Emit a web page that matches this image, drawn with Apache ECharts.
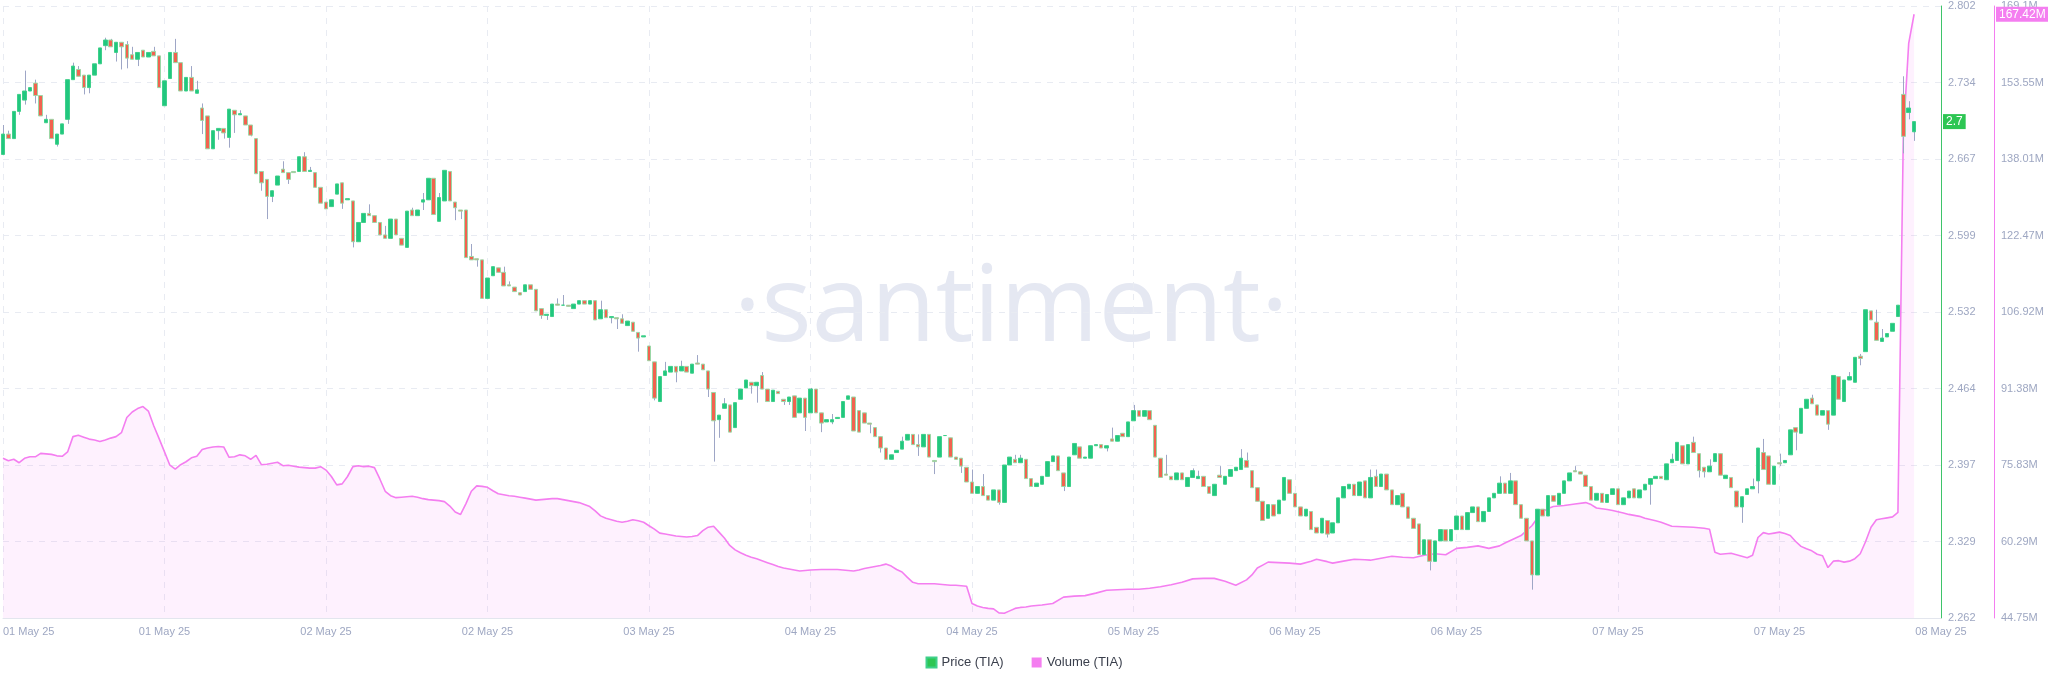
<!DOCTYPE html>
<html><head><meta charset="utf-8">
<script src="https://cdn.jsdelivr.net/npm/echarts/dist/echarts.min.js"></script>
<style>html,body{margin:0;padding:0;background:#fff}#c{width:2048px;height:693px}</style>
</head><body><div id="c"></div>
<script>
// ---- tick labels ----
const xTickLabels = ['01 May 25','01 May 25','02 May 25','02 May 25','03 May 25','04 May 25','04 May 25','05 May 25','06 May 25','06 May 25','07 May 25','07 May 25','08 May 25'];
const priceTicks = ['2.262','2.329','2.397','2.464','2.532','2.599','2.667','2.734','2.802'];
const volumeTicks = ['44.75M','60.29M','75.83M','91.38M','106.92M','122.47M','138.01M','153.55M','169.1M'];
const priceRange = [2.262, 2.802];
const volumeRange = [44.75, 169.1];
const lastPrice = 2.7;
const lastVolume = 167.42;

// ---- 30-minute candles (index = half-hour slot) ----
const opens = [
2.671,2.689,2.685,2.709,2.719,2.727,2.734,2.723,2.699,2.702,
2.680,2.689,2.702,2.737,2.746,2.741,2.730,2.741,2.751,2.767,
2.772,2.761,2.770,2.768,2.759,2.755,2.763,2.757,2.762,2.758,
2.714,2.738,2.761,2.752,2.727,2.739,2.725,2.712,2.705,2.676,
2.692,2.694,2.686,2.710,2.706,2.705,2.697,2.685,2.656,2.649,
2.634,2.644,2.658,2.655,2.656,2.656,2.669,2.656,2.655,2.642,
2.629,2.625,2.636,2.646,2.631,2.630,2.594,2.611,2.619,2.617,
2.611,2.600,2.597,2.614,2.597,2.589,2.622,2.617,2.629,2.631,
2.650,2.612,2.630,2.656,2.629,2.622,2.622,2.581,2.579,2.578,
2.544,2.564,2.571,2.567,2.556,2.554,2.549,2.550,2.556,2.552,
2.535,2.529,2.528,2.539,2.538,2.538,2.535,2.539,2.542,2.539,
2.542,2.526,2.534,2.527,2.527,2.526,2.520,2.523,2.514,2.510,
2.502,2.488,2.453,2.476,2.479,2.484,2.480,2.484,2.478,2.487,
2.486,2.480,2.461,2.437,2.447,2.450,2.430,2.455,2.465,2.470,
2.467,2.476,2.464,2.453,2.462,2.455,2.453,2.458,2.443,2.456,
2.443,2.464,2.443,2.435,2.435,2.438,2.439,2.455,2.457,2.445,
2.443,2.434,2.430,2.422,2.412,2.402,2.408,2.411,2.419,2.424,
2.415,2.413,2.424,2.401,2.404,2.423,2.421,2.404,2.403,2.395,
2.382,2.372,2.378,2.370,2.366,2.375,2.364,2.397,2.402,2.399,
2.402,2.385,2.378,2.380,2.387,2.400,2.405,2.390,2.378,2.406,
2.413,2.403,2.403,2.414,2.415,2.412,2.420,2.418,2.425,2.422,
2.436,2.445,2.440,2.445,2.432,2.403,2.389,2.387,2.384,2.390,
2.378,2.386,2.385,2.387,2.378,2.370,2.388,2.380,2.387,2.392,
2.393,2.401,2.392,2.377,2.365,2.350,2.362,2.354,2.366,2.384,
2.372,2.360,2.352,2.356,2.342,2.337,2.348,2.337,2.346,2.368,
2.376,2.380,2.370,2.383,2.368,2.387,2.378,2.389,2.375,2.362,
2.372,2.360,2.350,2.345,2.318,2.331,2.312,2.330,2.340,2.330,
2.340,2.352,2.340,2.355,2.360,2.347,2.356,2.368,2.372,2.381,
2.372,2.383,2.362,2.350,2.330,2.300,2.358,2.352,2.370,2.362,
2.372,2.383,2.392,2.391,2.388,2.378,2.366,2.372,2.364,2.371,
2.376,2.362,2.368,2.376,2.368,2.375,2.380,2.385,2.387,2.384,
2.399,2.401,2.414,2.398,2.417,2.407,2.395,2.391,2.400,2.407,
2.385,2.386,2.374,2.360,2.371,2.376,2.383,2.408,2.405,2.380,
2.399,2.399,2.406,2.430,2.425,2.447,2.456,2.450,2.441,2.445,
2.441,2.475,2.453,2.472,2.470,2.493,2.497,2.533,2.523,2.506,
2.510,2.515,2.528,2.724,2.708,2.691
];
const closes = [
2.689,2.685,2.709,2.724,2.727,2.730,2.723,2.705,2.702,2.685,
2.689,2.698,2.737,2.749,2.740,2.730,2.741,2.751,2.765,2.772,
2.766,2.770,2.766,2.756,2.755,2.761,2.757,2.761,2.758,2.730,
2.736,2.761,2.752,2.727,2.739,2.727,2.728,2.701,2.676,2.692,
2.694,2.690,2.711,2.706,2.707,2.697,2.688,2.654,2.646,2.634,
2.639,2.652,2.655,2.649,2.655,2.669,2.656,2.657,2.642,2.628,
2.623,2.631,2.645,2.628,2.632,2.594,2.611,2.619,2.617,2.611,
2.600,2.597,2.614,2.600,2.591,2.621,2.617,2.622,2.631,2.650,
2.618,2.633,2.657,2.630,2.624,2.621,2.580,2.578,2.578,2.544,
2.562,2.572,2.567,2.555,2.555,2.550,2.547,2.556,2.552,2.533,
2.529,2.530,2.539,2.538,2.538,2.537,2.539,2.542,2.539,2.542,
2.525,2.534,2.527,2.528,2.526,2.522,2.524,2.515,2.509,2.511,
2.489,2.456,2.475,2.480,2.484,2.479,2.484,2.479,2.486,2.486,
2.481,2.464,2.436,2.441,2.451,2.426,2.452,2.464,2.472,2.467,
2.470,2.464,2.453,2.463,2.460,2.453,2.457,2.439,2.456,2.439,
2.464,2.443,2.434,2.437,2.437,2.439,2.453,2.458,2.427,2.426,
2.434,2.433,2.422,2.412,2.402,2.406,2.410,2.418,2.424,2.415,
2.413,2.424,2.404,2.400,2.422,2.423,2.404,2.402,2.396,2.382,
2.372,2.378,2.370,2.366,2.375,2.364,2.397,2.404,2.399,2.403,
2.385,2.378,2.381,2.387,2.400,2.405,2.392,2.378,2.404,2.416,
2.403,2.404,2.414,2.415,2.412,2.414,2.418,2.423,2.422,2.435,
2.445,2.440,2.445,2.437,2.404,2.386,2.388,2.384,2.390,2.384,
2.386,2.392,2.387,2.378,2.372,2.380,2.386,2.387,2.393,2.395,
2.403,2.395,2.377,2.365,2.348,2.362,2.352,2.366,2.386,2.372,
2.360,2.352,2.358,2.340,2.337,2.350,2.336,2.346,2.368,2.378,
2.380,2.370,2.382,2.368,2.386,2.378,2.389,2.375,2.362,2.370,
2.360,2.350,2.341,2.318,2.331,2.312,2.330,2.340,2.330,2.340,
2.352,2.340,2.355,2.360,2.347,2.356,2.368,2.372,2.381,2.372,
2.383,2.362,2.350,2.330,2.300,2.358,2.352,2.370,2.365,2.372,
2.383,2.390,2.391,2.389,2.378,2.366,2.372,2.364,2.371,2.376,
2.362,2.368,2.374,2.368,2.375,2.380,2.385,2.387,2.385,2.398,
2.402,2.417,2.398,2.415,2.408,2.392,2.391,2.396,2.407,2.388,
2.388,2.377,2.360,2.369,2.376,2.378,2.412,2.393,2.380,2.396,
2.398,2.401,2.428,2.426,2.447,2.455,2.451,2.441,2.445,2.433,
2.476,2.455,2.472,2.475,2.492,2.491,2.534,2.525,2.507,2.509,
2.513,2.522,2.538,2.687,2.712,2.700
];
// wick extremes that reach beyond the body (index: price)
const wickHigh = {0:2.697,1:2.692,4:2.745,6:2.737,8:2.706,13:2.752,14:2.749,19:2.774,20:2.773,23:2.771,24:2.766,28:2.766,32:2.773,35:2.749,36:2.736,37:2.716,44:2.710,52:2.665,56:2.673,57:2.660,68:2.627,71:2.608,76:2.624,78:2.637,81:2.637,87:2.592,93:2.572,94:2.559,103:2.544,104:2.547,111:2.542,115:2.530,123:2.488,126:2.489,129:2.494,134:2.456,141:2.479,150:2.465,154:2.442,167:2.422,170:2.424,180:2.393,182:2.389,188:2.406,189:2.406,206:2.430,210:2.450,216:2.406,221:2.394,222:2.392,226:2.396,230:2.411,231:2.408,254:2.393,255:2.393,278:2.387,280:2.390,292:2.396,310:2.407,314:2.422,317:2.402,325:2.385,327:2.420,330:2.407,336:2.459,343:2.479,345:2.495,348:2.534,349:2.517,353:2.740,354:2.718};
const wickLow = {3:2.706,4:2.715,6:2.716,10:2.678,12:2.698,15:2.724,16:2.725,19:2.763,21:2.753,22:2.746,23:2.747,25:2.749,37:2.689,40:2.684,41:2.685,42:2.677,43:2.690,46:2.687,48:2.639,49:2.614,50:2.629,53:2.645,63:2.623,65:2.589,78:2.622,84:2.613,85:2.614,88:2.572,100:2.526,101:2.525,113:2.522,114:2.517,118:2.497,121:2.454,125:2.470,131:2.457,132:2.400,133:2.421,139:2.460,140:2.452,145:2.450,146:2.450,149:2.427,152:2.426,154:2.433,161:2.425,163:2.408,170:2.405,173:2.389,178:2.390,185:2.362,197:2.374,205:2.409,246:2.333,265:2.304,284:2.287,306:2.362,315:2.386,316:2.386,323:2.346,326:2.372,330:2.396,333:2.410,339:2.428,345:2.485,353:2.672,354:2.702,355:2.683};

// ---- volume (millions) sampled along the line: [slot, value] ----
const volume = [
[0,77.2],[1,76.7],[2,77.0],[3,76.3],[4,77.2],[5,77.5],[6,77.5],[7,78.2],[8,78.1],[9,78.0],[10,77.7],[11,77.6],[12,78.5],[13,81.6],[14,81.9],[15,81.5],[16,81.1],[17,80.9],[18,80.6],[19,80.9],[20,81.3],[21,81.6],[22,82.4],[23,85.5],[24,86.6],[25,87.3],[26,87.7],[27,86.8],[28,83.8],[29,81.2],[30,78.5],[31,75.8],[32,75.0],[33,75.9],[34,76.5],[35,77.3],[36,77.6],[37,79.0],[38,79.3],[39,79.5],[40,79.6],[41,79.5],[42,77.4],[43,77.5],[44,77.9],[45,77.7],[46,77.0],[47,77.8],[48,75.9],[49,76.0],[50,76.2],[51,76.4],[52,75.7],[53,75.8],[54,75.6],[55,75.4],[56,75.3],[57,75.2],[58,75.2],[59,75.5],[60,74.8],[61,73.5],[62,71.8],[63,72.0],[64,73.5],[65,75.5],[66,75.7],[67,75.5],[68,75.6],[69,75.3],[70,73.0],[71,70.5],[72,69.6],[73,69.2],[74,69.3],[75,69.4],[76,69.5],[77,69.3],[78,69.0],[79,68.8],[80,68.7],[81,68.6],[82,68.4],[83,67.5],[84,66.3],[85,65.8],[86,68.0],[87,70.5],[88,71.6],[89,71.5],[90,71.3],[91,70.6],[92,70.0],[93,69.8],[94,69.6],[95,69.5],[96,69.3],[97,69.1],[98,68.9],[99,68.7],[100,68.8],[101,68.9],[102,69.0],[103,69.0],[104,68.8],[105,68.6],[106,68.4],[107,68.2],[108,67.8],[109,67.4],[110,66.5],[111,65.5],[112,65.0],[113,64.7],[114,64.4],[115,64.2],[116,64.4],[117,64.7],[118,64.5],[119,64.2],[120,63.5],[121,62.8],[122,62.0],[123,61.8],[124,61.6],[125,61.4],[126,61.3],[127,61.2],[128,61.3],[129,61.5],[130,62.5],[131,63.2],[132,63.4],[133,62.2],[134,61.0],[135,59.5],[136,58.6],[137,58.0],[138,57.5],[139,57.1],[140,56.8],[141,56.4],[142,56.0],[143,55.6],[144,55.2],[145,54.9],[146,54.7],[147,54.5],[148,54.3],[149,54.4],[150,54.5],[152,54.6],[155,54.6],[156,54.5],[157,54.4],[158,54.3],[159,54.5],[160,54.8],[161,55.0],[162,55.2],[163,55.4],[164,55.7],[165,55.3],[166,54.6],[167,54.1],[168,53.0],[169,52.0],[170,51.7],[173,51.7],[174,51.6],[175,51.5],[176,51.4],[177,51.4],[178,51.3],[179,51.2],[180,47.7],[181,47.2],[182,46.9],[183,46.7],[184,46.6],[185,45.8],[186,45.7],[187,46.2],[188,46.7],[189,46.9],[190,47.0],[191,47.2],[193,47.4],[195,47.7],[197,49.0],[199,49.2],[201,49.3],[203,49.8],[205,50.4],[207,50.5],[209,50.6],[211,50.6],[213,50.8],[215,51.1],[217,51.5],[219,52.0],[221,52.7],[223,52.8],[225,52.8],[227,52.2],[229,51.4],[231,52.5],[232,53.5],[233,54.9],[234,55.5],[235,56.1],[237,56.0],[239,55.9],[241,55.7],[243,56.3],[244,56.7],[246,56.2],[247,55.9],[249,56.3],[251,56.7],[253,56.6],[254,56.5],[256,56.9],[258,57.3],[260,57.1],[262,57.0],[264,57.5],[266,57.8],[268,57.6],[270,58.9],[272,59.1],[274,59.4],[276,58.9],[278,59.4],[279,60.0],[281,61.0],[282,61.5],[283,62.5],[284,63.5],[285,65.0],[286,66.3],[287,67.0],[288,67.4],[290,67.6],[292,67.9],[294,68.2],[295,67.8],[296,67.1],[298,66.8],[299,66.6],[301,66.1],[302,65.8],[304,65.4],[305,65.0],[307,64.5],[308,64.2],[310,63.4],[312,63.3],[314,63.2],[316,63.0],[317,62.8],[318,58.1],[319,57.7],[321,57.9],[322,57.6],[323,57.3],[324,57.0],[325,57.5],[326,61.1],[327,62.1],[328,61.8],[329,62.0],[330,62.2],[331,61.9],[332,61.5],[333,60.3],[334,59.3],[335,58.8],[336,58.4],[337,57.7],[338,57.4],[339,55.0],[340,56.3],[341,56.4],[342,56.1],[343,56.3],[344,56.8],[345,57.8],[346,60.3],[347,63.2],[348,64.7],[349,64.9],[350,65.1],[351,65.3],[352,66.2],[353,142.8],[354,161.5],[355,167.42]
];

// ---- build library data ----
const slotCount = 361; // axis spans 12 x 30 half-hour slots
const slots = Array.from({length: slotCount}, (_, i) => String(i));
const bodies = opens.map((o, i) => {
  const c = closes[i];
  return [o, c, Math.min(o, c), Math.max(o, c)];
});
const wicks = opens.map((o, i) => {
  const c = closes[i];
  const lo = (i in wickLow) ? wickLow[i] : Math.min(o, c);
  const hi = (i in wickHigh) ? wickHigh[i] : Math.max(o, c);
  return [i, lo, hi];
});

const GREEN = '#21c77f', RED = '#f2624f', PINK = '#f47ef0', AXISGREEN = '#3ec46a';
const LABEL = '#9ea7c2', GRID = '#e8ebf2';
const FONT = '"Liberation Sans", Arial, sans-serif';
const NOLINE = {color: 'rgba(0,0,0,0)', width: 0};

const chart = echarts.init(document.getElementById('c'), null, {renderer: 'canvas'});
chart.setOption({
  animation: false,
  backgroundColor: '#ffffff',
  textStyle: {fontFamily: FONT},
  graphic: [{
    type: 'text', z: 0, silent: true, x: 1011, y: 258,
    style: {text: '·santiment·', fontSize: 106, fontWeight: 'normal', textAlign: 'center', textVerticalAlign: 'top',
      fontFamily: '"Open Sans", "Noto Sans", sans-serif', fill: '#e5e8f2'}
  }],
  legend: {
    bottom: 19, left: 'center', itemWidth: 10, itemHeight: 10, itemGap: 28, icon: 'rect',
    textStyle: {fontSize: 13, color: '#3a3f4c', fontFamily: FONT},
    data: [
      {name: 'Price (TIA)', itemStyle: {color: '#2dc653'}},
      {name: 'Volume (TIA)', itemStyle: {color: PINK}}
    ]
  },
  grid: {left: 0, right: 107, top: 6, bottom: 75, containLabel: false},
  xAxis: [{
    type: 'category', data: slots, boundaryGap: false,
    axisLine: {show: true, lineStyle: {color: '#e3e6ee'}},
    axisTick: {show: false},
    axisLabel: {interval: 29, color: LABEL, fontSize: 11, margin: 8, alignMinLabel: 'left',
      formatter: (v, i) => (i % 30 === 0 ? (xTickLabels[i / 30] || '') : '')},
    splitLine: {show: true, interval: 29, lineStyle: {color: GRID, type: [6, 6]}}
  }],
  yAxis: [
    {type: 'value', min: priceRange[0], max: priceRange[1], show: false, scale: true},
    {type: 'value', min: 0, max: 8, interval: 1, position: 'right',
      axisLine: {show: true, lineStyle: {color: AXISGREEN, width: 1}},
      axisTick: {show: false},
      axisLabel: {color: LABEL, fontSize: 11, margin: 7, formatter: v => priceTicks[v] || ''},
      splitLine: {show: true, lineStyle: {color: GRID, type: [6, 6]}}},
    {type: 'value', min: volumeRange[0], max: volumeRange[1], show: false, scale: true},
    {type: 'value', min: 0, max: 8, interval: 1, position: 'right', offset: 53,
      axisLine: {show: true, lineStyle: {color: PINK, width: 1}},
      axisTick: {show: false},
      axisLabel: {color: LABEL, fontSize: 11, margin: 7, formatter: v => volumeTicks[v] || ''},
      splitLine: {show: false}}
  ],
  series: [
    {
      name: 'Volume (TIA)', type: 'line', xAxisIndex: 0, yAxisIndex: 2, z: 1,
      data: volume, symbol: 'none', showSymbol: false,
      lineStyle: {color: PINK, width: 1.6},
      itemStyle: {color: PINK},
      areaStyle: {color: 'rgba(248,140,244,0.17)'},
      markLine: {
        silent: true, symbol: ['none', 'none'], animation: false,
        lineStyle: NOLINE,
        label: {show: true, position: 'end', distance: 55, formatter: '167.42M',
          backgroundColor: PINK, color: '#fff', fontSize: 12, padding: [2, 3, 1, 3]},
        data: [{yAxis: lastVolume}]
      }
    },
    {
      name: 'wick', type: 'custom', xAxisIndex: 0, yAxisIndex: 0, z: 3, silent: true,
      data: wicks, encode: {x: 0, y: [1, 2]},
      renderItem: (params, api) => {
        const x = api.value(0);
        const p1 = api.coord([x, api.value(2)]);
        const p2 = api.coord([x, api.value(1)]);
        const px = Math.round(p1[0]) + 0.5;
        return {type: 'line', shape: {x1: px, y1: p1[1], x2: px, y2: p2[1]},
          style: {stroke: '#9ea6c6', lineWidth: 1}};
      }
    },
    {
      name: 'Price (TIA)', type: 'candlestick', xAxisIndex: 0, yAxisIndex: 0, z: 4,
      data: bodies, barWidth: 4,
      itemStyle: {color: GREEN, color0: RED, borderColor: '#3fd08a', borderColor0: '#9bd7a6', borderWidth: 1},
      markLine: {
        silent: true, symbol: ['none', 'none'], animation: false,
        lineStyle: NOLINE,
        label: {show: true, position: 'end', distance: 2, formatter: '2.7',
          backgroundColor: '#2dc653', color: '#fff', fontSize: 12, padding: [2, 3, 1, 3]},
        data: [{yAxis: lastPrice}]
      }
    }
  ]
});
</script></body></html>
